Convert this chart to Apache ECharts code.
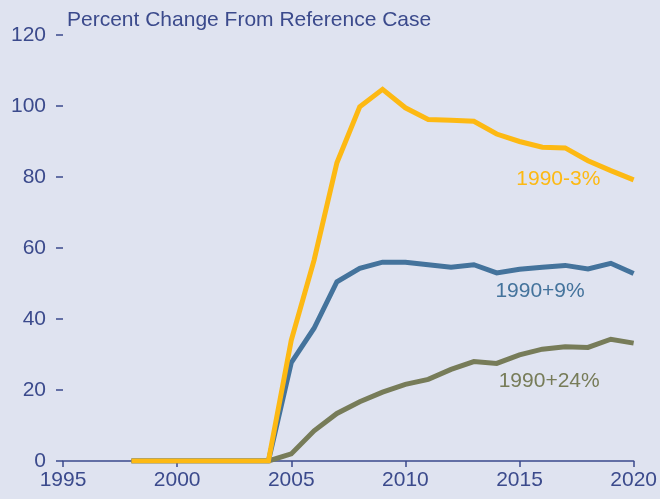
<!DOCTYPE html>
<html>
<head>
<meta charset="utf-8">
<script src="https://cdn.jsdelivr.net/npm/echarts@6/dist/echarts.min.js"></script>
<style>
  html, body { margin: 0; padding: 0; background: #dfe3f0; }
  #chart { width: 660px; height: 499px; }
</style>
</head>
<body>
<div id="chart"></div>
<script>
  // data
  const years = [1998, 1999, 2000, 2001, 2002, 2003, 2004, 2005, 2006, 2007, 2008, 2009, 2010, 2011, 2012, 2013, 2014, 2015, 2016, 2017, 2018, 2019, 2020];
  const minus3 = [0, 0, 0, 0, 0, 0, 0, 34, 56.6, 84, 99.8, 104.7, 99.5, 96.2, 96, 95.7, 92.1, 90, 88.4, 88.2, 84.6, 81.8, 79.2];
  const plus9 = [0, 0, 0, 0, 0, 0, 0, 27.7, 37.4, 50.5, 54.3, 56, 56, 55.3, 54.6, 55.3, 53, 54, 54.6, 55.1, 54.1, 55.7, 52.8];
  const plus24 = [0, 0, 0, 0, 0, 0, 0, 2, 8.5, 13.4, 16.7, 19.4, 21.6, 23, 25.8, 28, 27.5, 29.9, 31.5, 32.2, 32, 34.3, 33.2];
  const seriesNames = ['1990-3%', '1990+9%', '1990+24%'];
  const labelSpots = [[2016.7, 79.4], [2015.9, 47.9], [2016.3, 22.5]];

  const axisColor = '#3b4a8c';
  const font = 'Liberation Sans, Arial, sans-serif';

  function pairs(vals) {
    return years.map((y, i) => [y, vals[i]]);
  }

  function makeSeries(name, vals, color, spot, z) {
    return {
      name: name,
      type: 'line',
      data: pairs(vals),
      symbol: 'none',
      z: z,
      lineStyle: { color: color, width: 5, join: 'miter' },
      markPoint: {
        symbol: 'circle',
        symbolSize: 0,
        data: [{ coord: spot }],
        label: {
          show: true,
          formatter: name,
          color: color,
          fontSize: 21,
          fontFamily: font
        }
      }
    };
  }

  let chart = echarts.init(document.getElementById('chart'));
  chart.setOption({
    backgroundColor: '#dfe3f0',
    animation: false,
    title: {
      text: 'Percent Change From Reference Case',
      left: 62,
      top: 5,
      textStyle: { color: axisColor, fontSize: 21, fontWeight: 'normal', fontFamily: font }
    },
    grid: { left: 63, right: 25, top: 35, bottom: 38, containLabel: false },
    xAxis: {
      type: 'value',
      min: 1995,
      max: 2020,
      interval: 5,
      axisLine: { show: true, lineStyle: { color: axisColor, width: 1.5 } },
      axisTick: { show: true, length: 6, lineStyle: { color: axisColor, width: 1.5 } },
      axisLabel: { color: axisColor, fontSize: 21, fontFamily: font, margin: 9, formatter: v => String(v) },
      splitLine: { show: false }
    },
    yAxis: {
      type: 'value',
      min: 0,
      max: 120,
      interval: 20,
      axisLine: { show: false },
      axisTick: { show: true, length: 7, lineStyle: { color: axisColor, width: 1.5 } },
      axisLabel: { color: axisColor, fontSize: 21, fontFamily: font, margin: 17 },
      splitLine: { show: false }
    },
    series: [
      makeSeries(seriesNames[2], plus24, '#777c59', labelSpots[2], 2),
      makeSeries(seriesNames[1], plus9, '#44739c', labelSpots[1], 3),
      makeSeries(seriesNames[0], minus3, '#fdb913', labelSpots[0], 4)
    ]
  });
</script>
</body>
</html>
